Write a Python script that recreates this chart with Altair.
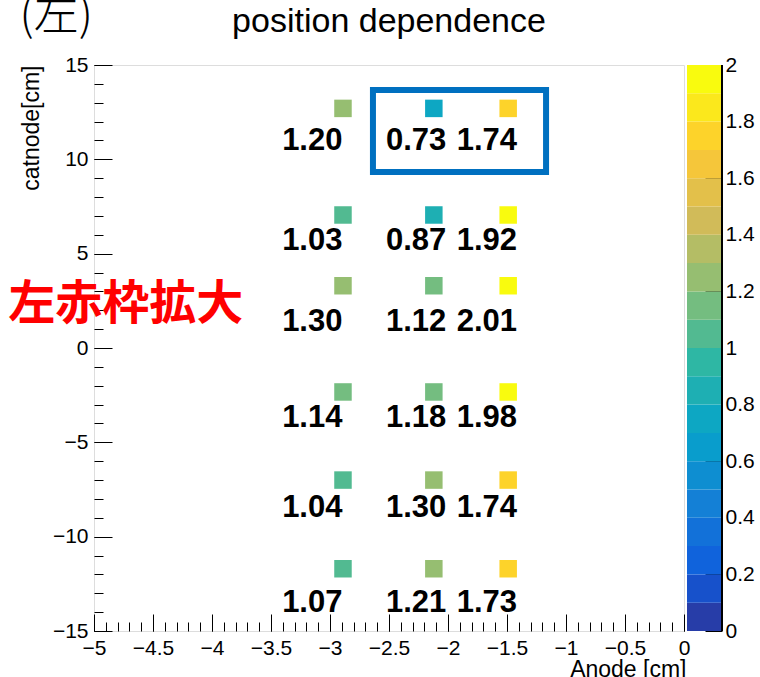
import altair as alt
import pandas as pd

# ---------------- data ----------------
col_x = [-2.89, -2.12, -1.49]                       # square centres, Anode [cm]
row_y = [12.7, 7.05, 3.3, -2.33, -7.0, -11.7]       # square centres, cathode [cm]
label_x = [-3.15, -2.27, -1.67]                     # number label centres
label_y = [10.5, 5.2, 0.9, -4.18, -8.95, -13.99]    # number label baselines
values = [
    [1.20, 0.73, 1.74],
    [1.03, 0.87, 1.92],
    [1.298, 1.12, 2.01],
    [1.14, 1.18, 1.98],
    [1.04, 1.298, 1.74],
    [1.07, 1.21, 1.73],
]
x_major = [-5, -4.5, -4, -3.5, -3, -2.5, -2, -1.5, -1, -0.5, 0]
x_minor = [round(-5 + 0.1 * k, 1) for k in range(51)]
y_major = [-15, -10, -5, 0, 5, 10, 15]
y_minor = list(range(-15, 16))
cb_edges = [0.0, 0.1, 0.2, 0.3, 0.4, 0.5, 0.6, 0.7, 0.8, 0.9, 1.0,
            1.1, 1.2, 1.3, 1.4, 1.5, 1.6, 1.7, 1.8, 1.9, 2.0]
cb_ticks = [0, 0.2, 0.4, 0.6, 0.8, 1, 1.2, 1.4, 1.6, 1.8, 2]

box_x = [-2.636, -1.169]
box_y = [13.68, 9.33]
note = {"text": "左赤枠拡大", "x": -4.73, "y": 1.54}
tag = {"text": "(左)", "x": -5.32, "y": 16.86}

# ---------------- palette (ROOT kBird, 20 contours) ----------------
stops = [0.0, 0.125, 0.25, 0.375, 0.5, 0.625, 0.75, 0.875, 1.0]
pr = [0.2082, 0.0592, 0.0780, 0.0232, 0.1802, 0.5301, 0.8186, 0.9956, 0.9764]
pg = [0.1664, 0.3599, 0.5041, 0.6419, 0.7178, 0.7492, 0.7328, 0.7862, 0.9832]
pb = [0.5293, 0.8684, 0.8385, 0.7914, 0.6425, 0.4662, 0.3499, 0.1968, 0.0539]


def bird(f):
    for k in range(8):
        if f <= stops[k + 1]:
            t = (f - stops[k]) / (stops[k + 1] - stops[k])
            c = [a[k] + t * (a[k + 1] - a[k]) for a in (pr, pg, pb)]
            return "#%02x%02x%02x" % tuple(int(round(255 * v)) for v in c)
    return "#f9fb0e"


palette = [bird(int((i + 0.99) * 255 / 20) / 254) for i in range(20)]

# ---------------- tables ----------------
cells = pd.DataFrame([
    {"sx": col_x[c], "sy": row_y[r], "tx": label_x[c], "ty": label_y[r], "v": values[r][c]}
    for r in range(len(row_y)) for c in range(len(col_x))
])
cb = pd.DataFrame({"lo": cb_edges[:-1], "hi": cb_edges[1:]})
box = pd.DataFrame({"x1": [box_x[0]], "x2": [box_x[1]], "y1": [box_y[0]], "y2": [box_y[1]]})
notes = pd.DataFrame([note])
tags = pd.DataFrame([tag])

FONT = "Liberation Sans"
W, H = 590, 566

xs = alt.Scale(domain=[-5, 0], nice=False, zero=False)
ys = alt.Scale(domain=[-15, 15], nice=False, zero=False)
cscale = alt.Scale(type="threshold", domain=cb_edges[1:-1], range=palette)

x_major_axis = alt.Axis(
    orient="bottom", values=x_major, format="~g", tickSize=17, offset=-17,
    domain=False, grid=False, tickColor="black", labelColor="black",
    labelFont=FONT, labelFontSize=21, labelPadding=6, labelFlush=False,
    labelOverlap=False, title="Anode [cm]", titleFont=FONT, titleFontSize=23,
    titleFontWeight="normal", titleColor="black", titleAlign="right",
    titleBaseline="alphabetic", titleX=592, titleY=62,
)
y_major_axis = alt.Axis(
    orient="left", values=y_major, format="~g", tickSize=18, offset=-18,
    domain=False, grid=False, tickColor="black", labelColor="black",
    labelFont=FONT, labelFontSize=21, labelPadding=6, labelFlush=False,
    labelOverlap=False, title="catnode[cm]", titleFont=FONT, titleFontSize=23,
    titleFontWeight="normal", titleColor="black", titleAngle=270,
    titleAlign="right", titleBaseline="middle", titleX=-81, titleY=0,
)
x_minor_axis = alt.Axis(orient="bottom", values=x_minor, tickSize=9, offset=-9,
                        domain=False, grid=False, labels=False, title=None,
                        tickColor="black")
y_minor_axis = alt.Axis(orient="left", values=y_minor, tickSize=9, offset=-9,
                        domain=False, grid=False, labels=False, title=None,
                        tickColor="black")
cb_axis = alt.Axis(orient="right", values=cb_ticks, format="~g", tickSize=17,
                   offset=21, domain=False, grid=False, tickColor="black",
                   labelColor="black", labelFont=FONT, labelFontSize=21,
                   labelPadding=3, labelFlush=False, labelOverlap=False, title=None)

minor = alt.Chart(cells).mark_point(opacity=0).encode(
    x=alt.X("sx:Q", scale=xs, axis=x_minor_axis),
    y=alt.Y("sy:Q", scale=ys, axis=y_minor_axis),
)
squares = alt.Chart(cells).mark_square(size=306, opacity=1).encode(
    x=alt.X("sx:Q", scale=xs, axis=x_major_axis),
    y=alt.Y("sy:Q", scale=ys, axis=y_major_axis),
    color=alt.Color("v:Q", scale=cscale, legend=None),
)
labels = alt.Chart(cells).mark_text(
    font=FONT, fontSize=31, fontWeight="bold", align="center",
    baseline="alphabetic", color="black",
).encode(
    x=alt.X("tx:Q", scale=xs, axis=None),
    y=alt.Y("ty:Q", scale=ys, axis=None),
    text=alt.Text("v:Q", format=".2f"),
)
frame_box = alt.Chart(box).mark_rect(fillOpacity=0, stroke="#0070c0", strokeWidth=6).encode(
    x=alt.X("x1:Q", scale=xs, axis=None), x2="x2:Q",
    y=alt.Y("y1:Q", scale=ys, axis=None), y2="y2:Q",
)
note_t = alt.Chart(notes).mark_text(
    font="Noto Sans CJK JP", fontSize=47, fontWeight="bold", color="#ff0000",
    align="center", baseline="alphabetic",
).encode(
    x=alt.X("x:Q", scale=xs, axis=None),
    y=alt.Y("y:Q", scale=ys, axis=None),
    text="text:N",
)
tag_t = alt.Chart(tags).mark_text(
    font="Noto Sans CJK JP", fontSize=45, fontWeight=300, color="black",
    align="center", baseline="alphabetic",
).encode(
    x=alt.X("x:Q", scale=xs, axis=None),
    y=alt.Y("y:Q", scale=ys, axis=None),
    text="text:N",
)

main = alt.layer(minor, squares, labels, frame_box, note_t, tag_t).resolve_axis(
    x="independent", y="independent")

cbar = alt.Chart(cb).mark_rect().encode(
    x=alt.value(593), x2=alt.value(628),
    y=alt.Y("lo:Q", scale=alt.Scale(domain=[0, 2], nice=False, zero=False), axis=cb_axis),
    y2="hi:Q",
    color=alt.Color("lo:Q", scale=cscale, legend=None),
)
cbar_edge = alt.Chart(cb).mark_rule(color="black", strokeWidth=1).encode(
    x=alt.value(628), y=alt.value(0), y2=alt.value(H))

chart = alt.layer(main, cbar, cbar_edge).resolve_scale(y="independent").properties(
    width=W, height=H,
    title=alt.TitleParams("position dependence", font=FONT, fontSize=34,
                          fontWeight="normal", color="black", anchor="middle",
                          frame="group", baseline="alphabetic", offset=0, dy=72),
    padding={"left": 94, "top": 65, "right": 76, "bottom": 46},
    autosize=alt.AutoSizeParams(type="none"),
).configure_view(stroke="black", strokeWidth=1).configure(background="white")

chart.save("out.html", embed_options={"renderer": "svg", "actions": False})
